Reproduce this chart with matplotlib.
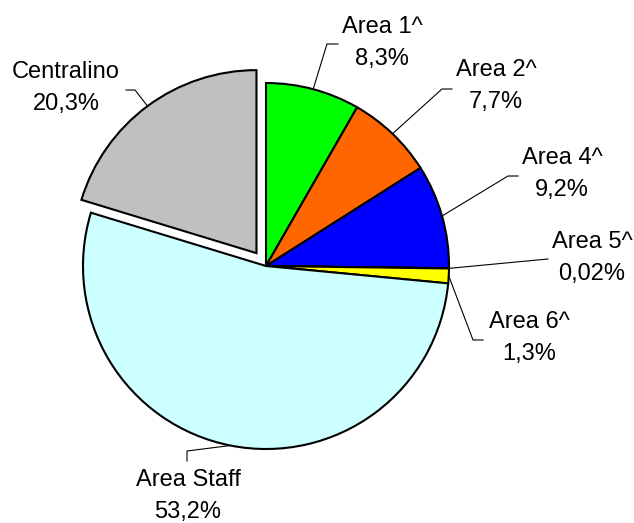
import numpy as np
import matplotlib.pyplot as plt

plt.rcParams['font.family'] = ['Liberation Sans', 'DejaVu Sans']

# slice data, clockwise from 12 o'clock
names = ['Area 1^', 'Area 2^', 'Area 4^', 'Area 5^', 'Area 6^', 'Area Staff', 'Centralino']
values = [8.3, 7.7, 9.2, 0.02, 1.3, 53.2, 20.3]
pct_labels = ['8,3%', '7,7%', '9,2%', '0,02%', '1,3%', '53,2%', '20,3%']
COLS = ['#00FF00', '#FF6600', '#0000FF', '#FF00FF', '#FFFF00', '#CCFFFF', '#C0C0C0']

W, H = 634, 523
CX, CY, R = 266, 266, 183   # pixel coords, y down

# label layout (pixel coords, y down): text centre of first line, then leader elbow points
label_pos = [(382, 27), (496, 70), (562, 158), (592, 242), (529, 322), (188, 480), (66, 72)]
elbows = [
    [(327, 44), (338, 44)],
    [(442, 89), (452, 89)],
    [(508, 176), (518, 176)],
    [(548, 259)],
    [(473, 340), (483, 340)],
    [(187, 451), (187, 461)],
    [(135, 90), (126, 90)],
]

fig = plt.figure(figsize=(W / 100, H / 100), dpi=100)
ax = fig.add_axes([0, 0, 1, 1])

explode = [0, 0, 0, 0, 0, 0, 16]
wedges, _ = ax.pie(values, colors=COLS, startangle=90, counterclock=False,
                   radius=R, center=(CX, H - CY), explode=explode,
                   wedgeprops=dict(edgecolor='black', linewidth=1.5))

for i, w in enumerate(wedges):
    th = np.radians((w.theta1 + w.theta2) / 2)
    cx, cy = w.center
    ex, ey = cx + R * np.cos(th), cy + R * np.sin(th)
    xs = [ex] + [p[0] for p in elbows[i]]
    ys = [ey] + [H - p[1] for p in elbows[i]]
    ax.plot(xs, ys, color='black', lw=0.8)

    tx, ty = label_pos[i]
    ax.text(tx, H - ty, names[i], ha='center', va='center', fontsize=17)
    ax.text(tx, H - ty - 32, pct_labels[i], ha='center', va='center', fontsize=17)

ax.set_xlim(0, W)
ax.set_ylim(0, H)
ax.set_aspect('equal')
ax.axis('off')

plt.savefig('out.png', dpi=100)
